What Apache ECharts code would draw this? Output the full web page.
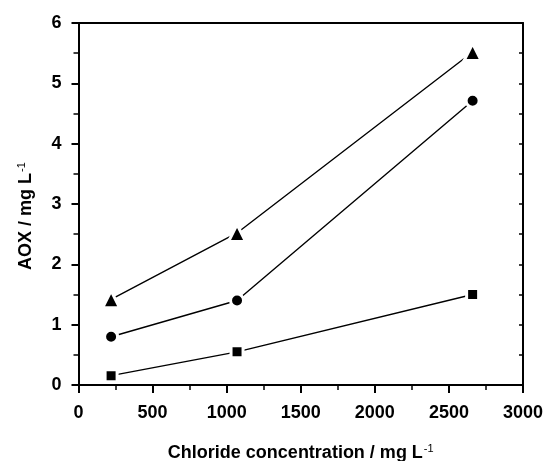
<!DOCTYPE html>
<html>
<head>
<meta charset="utf-8">
<script src="https://cdn.jsdelivr.net/npm/echarts@6/dist/echarts.min.js"></script>
<style>
  html, body { margin: 0; padding: 0; background: #fff; }
  #chart { width: 546px; height: 461px; }
</style>
</head>
<body>
<div id="chart"></div>
<script>
// Chloride concentration (mg/L) for each measurement
const chloride = [220, 1070, 2660];
// AOX (mg/L) for the three series
const aoxTriangle = [1.42, 2.52, 5.52];
const aoxCircle = [0.80, 1.40, 4.71];
const aoxSquare = [0.155, 0.55, 1.50];

const xTicks = { min: 0, max: 3000, interval: 500 };
const yTicks = { min: 0, max: 6, interval: 1 };

const FONT = 'Liberation Sans, Arial, sans-serif';
const INK = '#000';

function pairs(xs, ys) {
  return xs.map((x, i) => [x, ys[i]]);
}

// White marker outline leaves a small gap between line ends and markers
function lineSeries(name, symbol, size, values) {
  return {
    name: name,
    type: 'line',
    data: pairs(chloride, values),
    symbol: symbol,
    symbolSize: size,
    showAllSymbol: true,
    lineStyle: { color: INK, width: 1.4 },
    itemStyle: { color: INK, borderColor: '#fff', borderWidth: 3, borderJoin: 'miter' },
    emphasis: { disabled: true },
    z: 3
  };
}

// Axis title with a raised "-1" exponent
const titleRich = {
  a: { fontFamily: FONT, fontWeight: 'bold', fontSize: 18, color: INK, lineHeight: 20 },
  s: { fontFamily: FONT, fontWeight: 'normal', fontSize: 11, color: INK, verticalAlign: 'top', lineHeight: 20, padding: [0, 0, 12, 1] }
};

const plainNumber = v => String(v);

const chart = echarts.init(document.getElementById('chart'), null, { renderer: 'canvas' });

chart.setOption({
  animation: false,
  backgroundColor: '#fff',
  grid: { left: 78.5, right: 23, top: 23, bottom: 76, containLabel: false, outerBoundsMode: 'none' },
  xAxis: [
    {
      type: 'value',
      position: 'bottom',
      min: xTicks.min, max: xTicks.max, interval: xTicks.interval,
      name: '{a|Chloride concentration / mg L}{s|-1}',
      nameLocation: 'middle',
      nameGap: 58,
      nameTextStyle: { rich: titleRich },
      axisLine: { show: true, onZero: false, lineStyle: { color: INK, width: 2 } },
      axisTick: { show: true, inside: false, length: 8, lineStyle: { color: INK, width: 2 } },
      minorTick: { show: true, splitNumber: 2, length: 5, lineStyle: { color: INK, width: 1.5 } },
      axisLabel: { margin: 19, fontFamily: FONT, fontWeight: 'bold', fontSize: 18, color: INK, formatter: plainNumber },
      splitLine: { show: false }
    },
    {
      type: 'value',
      position: 'top',
      min: xTicks.min, max: xTicks.max, interval: xTicks.interval,
      axisLine: { show: true, onZero: false, lineStyle: { color: INK, width: 2 } },
      axisTick: { show: false },
      axisLabel: { show: false },
      splitLine: { show: false }
    }
  ],
  yAxis: [
    {
      type: 'value',
      position: 'left',
      min: yTicks.min, max: yTicks.max, interval: yTicks.interval,
      name: '{a|AOX / mg L}{s|-1}',
      nameLocation: 'middle',
      nameGap: 42,
      nameRotate: 90,
      nameTextStyle: { rich: titleRich, padding: [0, 24, 0, 0] },
      axisLine: { show: true, onZero: false, lineStyle: { color: INK, width: 2 } },
      axisTick: { show: true, inside: false, length: 7, lineStyle: { color: INK, width: 2 } },
      minorTick: { show: true, splitNumber: 2, length: 5, lineStyle: { color: INK, width: 1.5 } },
      axisLabel: { margin: 17, fontFamily: FONT, fontWeight: 'bold', fontSize: 18, color: INK, formatter: plainNumber },
      splitLine: { show: false }
    },
    {
      type: 'value',
      position: 'right',
      min: yTicks.min, max: yTicks.max, interval: yTicks.interval,
      axisLine: { show: true, onZero: false, lineStyle: { color: INK, width: 2 } },
      axisTick: { show: true, inside: true, length: 4, lineStyle: { color: INK, width: 1.5 } },
      minorTick: { show: true, splitNumber: 2, length: 4, lineStyle: { color: INK, width: 1.5 } },
      axisLabel: { show: false },
      splitLine: { show: false }
    }
  ],
  series: [
    lineSeries('triangle', 'triangle', 17, aoxTriangle),
    lineSeries('circle', 'circle', 13, aoxCircle),
    lineSeries('square', 'rect', 12, aoxSquare)
  ]
});
</script>
</body>
</html>
